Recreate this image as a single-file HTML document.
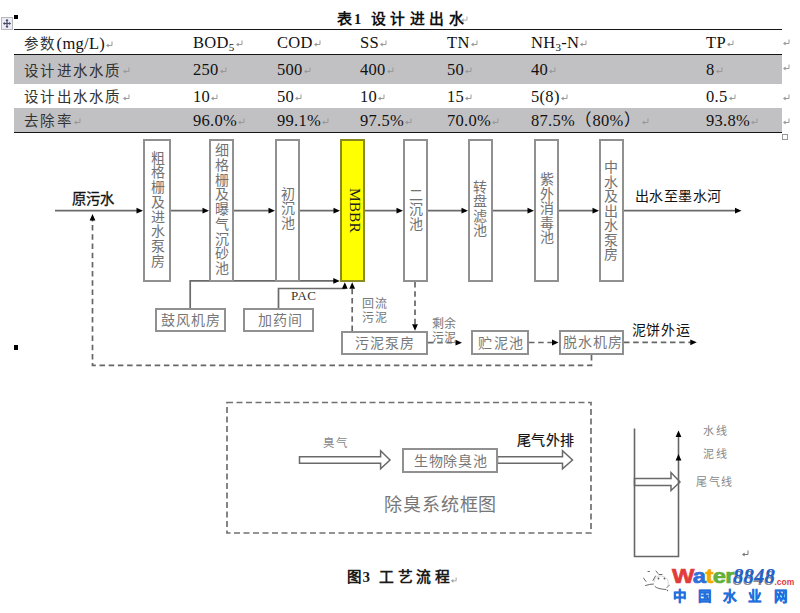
<!DOCTYPE html>
<html lang="zh-CN">
<head>
<meta charset="utf-8">
<style>
html,body{margin:0;padding:0;background:#fff;}
body{width:800px;height:613px;position:relative;overflow:hidden;font-family:"Liberation Serif",serif;color:#111;}
.a{position:absolute;white-space:nowrap;}
.t{font-size:16.5px;line-height:16px;letter-spacing:0.3px;}
.t .cn{-webkit-text-stroke:0;}
.cn{font-size:14.5px;letter-spacing:2.3px;color:#333;}
svg.rm{position:static;display:inline-block;width:7px;height:7px;vertical-align:1px;margin-left:1px;}
svg.rme{position:absolute;width:7px;height:7px;}
.gray{position:absolute;background:#c1c0c2;}
.hl{position:absolute;background:#151515;}
.vt{position:absolute;text-align:center;color:#727272;font-size:14px;}
.box{position:absolute;border:2px solid #909090;box-sizing:border-box;background:#fff;}
svg{position:absolute;left:0;top:0;}
</style>
</head>
<body>
<!-- table -->
<svg style="left:1px;top:17px;" width="12" height="13" viewBox="0 0 12 13"><rect x="0.5" y="0.5" width="11" height="12" fill="#ececf8" stroke="#b8b8b8" stroke-width="1"/><g stroke="#4a4a66" stroke-width="1.2" fill="#4a4a66"><line x1="2.5" y1="6.5" x2="9.5" y2="6.5"/><line x1="6" y1="2.5" x2="6" y2="10.5"/></g><g fill="#4a4a66"><path d="M2,6.5 L4,5 L4,8z"/><path d="M10,6.5 L8,5 L8,8z"/><path d="M6,2 L4.5,4 L7.5,4z"/><path d="M6,11 L4.5,9 L7.5,9z"/></g></svg>
<div class="a" style="left:13.5px;top:14.5px;width:4.5px;height:4px;background:#000;"></div>
<div class="a" style="left:337px;top:9.5px;font-size:15px;font-weight:bold;line-height:18px;color:#111;">表<span style="margin-left:2px;font-size:14.5px;">1</span></div>
<div class="a" style="left:370.5px;top:9.5px;font-size:14.8px;font-weight:bold;letter-spacing:4.6px;line-height:18px;color:#111;">设计进出水</div>
<div class="gray" style="left:14px;top:55px;width:768px;height:29px;"></div>
<div class="gray" style="left:14px;top:108px;width:768px;height:24px;"></div>
<div class="hl" style="left:14px;top:29px;width:768px;height:1px;"></div>
<div class="hl" style="left:14px;top:54px;width:768px;height:1px;"></div>
<div class="hl" style="left:14px;top:132px;width:768px;height:1px;"></div>
<div class="a" style="left:782px;top:134px;width:4px;height:4px;border:1px solid #999;"></div>

<div id="tbl">
<div class="a t" style="left:24px;top:35.5px;"><span class="cn">参数</span>(mg/L)<svg class="rm" viewBox="0 0 7 7"><path d="M6,0.5V4.5H1.8" fill="none" stroke="#999" stroke-width="1"/><path d="M0,4.5L2.6,2.4V6.6z" fill="#999"/></svg></div>
<div class="a t" style="left:193px;top:35.3px;">BOD<span style="font-size:11px;vertical-align:-3px">5</span><svg class="rm" viewBox="0 0 7 7"><path d="M6,0.5V4.5H1.8" fill="none" stroke="#999" stroke-width="1"/><path d="M0,4.5L2.6,2.4V6.6z" fill="#999"/></svg></div>
<div class="a t" style="left:277px;top:35.3px;">COD<svg class="rm" viewBox="0 0 7 7"><path d="M6,0.5V4.5H1.8" fill="none" stroke="#999" stroke-width="1"/><path d="M0,4.5L2.6,2.4V6.6z" fill="#999"/></svg></div>
<div class="a t" style="left:360px;top:35.3px;">SS<svg class="rm" viewBox="0 0 7 7"><path d="M6,0.5V4.5H1.8" fill="none" stroke="#999" stroke-width="1"/><path d="M0,4.5L2.6,2.4V6.6z" fill="#999"/></svg></div>
<div class="a t" style="left:447px;top:35.3px;">TN<svg class="rm" viewBox="0 0 7 7"><path d="M6,0.5V4.5H1.8" fill="none" stroke="#999" stroke-width="1"/><path d="M0,4.5L2.6,2.4V6.6z" fill="#999"/></svg></div>
<div class="a t" style="left:531px;top:35.3px;">NH<span style="font-size:11px;vertical-align:-3px">3</span>-N<svg class="rm" viewBox="0 0 7 7"><path d="M6,0.5V4.5H1.8" fill="none" stroke="#999" stroke-width="1"/><path d="M0,4.5L2.6,2.4V6.6z" fill="#999"/></svg></div>
<div class="a t" style="left:706px;top:35.3px;">TP<svg class="rm" viewBox="0 0 7 7"><path d="M6,0.5V4.5H1.8" fill="none" stroke="#999" stroke-width="1"/><path d="M0,4.5L2.6,2.4V6.6z" fill="#999"/></svg></div>
<div class="a t" style="left:24px;top:62px;"><span class="cn" style="position:relative;top:1px">设计进水水质</span><svg class="rm" viewBox="0 0 7 7"><path d="M6,0.5V4.5H1.8" fill="none" stroke="#999" stroke-width="1"/><path d="M0,4.5L2.6,2.4V6.6z" fill="#999"/></svg></div>
<div class="a t" style="left:193px;top:62px;">250<svg class="rm" viewBox="0 0 7 7"><path d="M6,0.5V4.5H1.8" fill="none" stroke="#999" stroke-width="1"/><path d="M0,4.5L2.6,2.4V6.6z" fill="#999"/></svg></div>
<div class="a t" style="left:277px;top:62px;">500<svg class="rm" viewBox="0 0 7 7"><path d="M6,0.5V4.5H1.8" fill="none" stroke="#999" stroke-width="1"/><path d="M0,4.5L2.6,2.4V6.6z" fill="#999"/></svg></div>
<div class="a t" style="left:360px;top:62px;">400<svg class="rm" viewBox="0 0 7 7"><path d="M6,0.5V4.5H1.8" fill="none" stroke="#999" stroke-width="1"/><path d="M0,4.5L2.6,2.4V6.6z" fill="#999"/></svg></div>
<div class="a t" style="left:447px;top:62px;">50<svg class="rm" viewBox="0 0 7 7"><path d="M6,0.5V4.5H1.8" fill="none" stroke="#999" stroke-width="1"/><path d="M0,4.5L2.6,2.4V6.6z" fill="#999"/></svg></div>
<div class="a t" style="left:531px;top:62px;">40<svg class="rm" viewBox="0 0 7 7"><path d="M6,0.5V4.5H1.8" fill="none" stroke="#999" stroke-width="1"/><path d="M0,4.5L2.6,2.4V6.6z" fill="#999"/></svg></div>
<div class="a t" style="left:706px;top:62px;">8<svg class="rm" viewBox="0 0 7 7"><path d="M6,0.5V4.5H1.8" fill="none" stroke="#999" stroke-width="1"/><path d="M0,4.5L2.6,2.4V6.6z" fill="#999"/></svg></div>
<div class="a t" style="left:24px;top:89px;"><span class="cn">设计出水水质</span><svg class="rm" viewBox="0 0 7 7"><path d="M6,0.5V4.5H1.8" fill="none" stroke="#999" stroke-width="1"/><path d="M0,4.5L2.6,2.4V6.6z" fill="#999"/></svg></div>
<div class="a t" style="left:193px;top:89px;">10<svg class="rm" viewBox="0 0 7 7"><path d="M6,0.5V4.5H1.8" fill="none" stroke="#999" stroke-width="1"/><path d="M0,4.5L2.6,2.4V6.6z" fill="#999"/></svg></div>
<div class="a t" style="left:277px;top:89px;">50<svg class="rm" viewBox="0 0 7 7"><path d="M6,0.5V4.5H1.8" fill="none" stroke="#999" stroke-width="1"/><path d="M0,4.5L2.6,2.4V6.6z" fill="#999"/></svg></div>
<div class="a t" style="left:360px;top:89px;">10<svg class="rm" viewBox="0 0 7 7"><path d="M6,0.5V4.5H1.8" fill="none" stroke="#999" stroke-width="1"/><path d="M0,4.5L2.6,2.4V6.6z" fill="#999"/></svg></div>
<div class="a t" style="left:447px;top:89px;">15<svg class="rm" viewBox="0 0 7 7"><path d="M6,0.5V4.5H1.8" fill="none" stroke="#999" stroke-width="1"/><path d="M0,4.5L2.6,2.4V6.6z" fill="#999"/></svg></div>
<div class="a t" style="left:531px;top:89px;">5(8)<svg class="rm" viewBox="0 0 7 7"><path d="M6,0.5V4.5H1.8" fill="none" stroke="#999" stroke-width="1"/><path d="M0,4.5L2.6,2.4V6.6z" fill="#999"/></svg></div>
<div class="a t" style="left:706px;top:89px;">0.5<svg class="rm" viewBox="0 0 7 7"><path d="M6,0.5V4.5H1.8" fill="none" stroke="#999" stroke-width="1"/><path d="M0,4.5L2.6,2.4V6.6z" fill="#999"/></svg></div>
<div class="a t" style="left:24px;top:113px;"><span class="cn">去除率</span><svg class="rm" viewBox="0 0 7 7"><path d="M6,0.5V4.5H1.8" fill="none" stroke="#999" stroke-width="1"/><path d="M0,4.5L2.6,2.4V6.6z" fill="#999"/></svg></div>
<div class="a t" style="left:193px;top:113px;">96.0%<svg class="rm" viewBox="0 0 7 7"><path d="M6,0.5V4.5H1.8" fill="none" stroke="#999" stroke-width="1"/><path d="M0,4.5L2.6,2.4V6.6z" fill="#999"/></svg></div>
<div class="a t" style="left:277px;top:113px;">99.1%<svg class="rm" viewBox="0 0 7 7"><path d="M6,0.5V4.5H1.8" fill="none" stroke="#999" stroke-width="1"/><path d="M0,4.5L2.6,2.4V6.6z" fill="#999"/></svg></div>
<div class="a t" style="left:360px;top:113px;">97.5%<svg class="rm" viewBox="0 0 7 7"><path d="M6,0.5V4.5H1.8" fill="none" stroke="#999" stroke-width="1"/><path d="M0,4.5L2.6,2.4V6.6z" fill="#999"/></svg></div>
<div class="a t" style="left:447px;top:113px;">70.0%<svg class="rm" viewBox="0 0 7 7"><path d="M6,0.5V4.5H1.8" fill="none" stroke="#999" stroke-width="1"/><path d="M0,4.5L2.6,2.4V6.6z" fill="#999"/></svg></div>
<div class="a t" style="left:531px;top:113px;">87.5%（80%）<svg class="rm" viewBox="0 0 7 7"><path d="M6,0.5V4.5H1.8" fill="none" stroke="#999" stroke-width="1"/><path d="M0,4.5L2.6,2.4V6.6z" fill="#999"/></svg></div>
<div class="a t" style="left:706px;top:113px;">93.8%<svg class="rm" viewBox="0 0 7 7"><path d="M6,0.5V4.5H1.8" fill="none" stroke="#999" stroke-width="1"/><path d="M0,4.5L2.6,2.4V6.6z" fill="#999"/></svg></div>
</div>

<svg class="rme" style="left:783px;top:39px" viewBox="0 0 7 7"><path d="M6,0.5V4.5H1.8" fill="none" stroke="#999" stroke-width="1"/><path d="M0,4.5L2.6,2.4V6.6z" fill="#999"/></svg>
<svg class="rme" style="left:783px;top:64px" viewBox="0 0 7 7"><path d="M6,0.5V4.5H1.8" fill="none" stroke="#999" stroke-width="1"/><path d="M0,4.5L2.6,2.4V6.6z" fill="#999"/></svg>
<svg class="rme" style="left:783px;top:93.5px" viewBox="0 0 7 7"><path d="M6,0.5V4.5H1.8" fill="none" stroke="#999" stroke-width="1"/><path d="M0,4.5L2.6,2.4V6.6z" fill="#999"/></svg>
<svg class="rme" style="left:783px;top:118px" viewBox="0 0 7 7"><path d="M6,0.5V4.5H1.8" fill="none" stroke="#999" stroke-width="1"/><path d="M0,4.5L2.6,2.4V6.6z" fill="#999"/></svg>
<!-- diagram lines -->
<svg width="800" height="613" viewBox="0 0 800 613">
<g stroke="#6a6a6a" stroke-width="1.7" fill="none">
<line x1="55" y1="210.7" x2="138" y2="210.7"/>
<line x1="170" y1="210.7" x2="204" y2="210.7"/>
<line x1="233" y1="210.7" x2="270" y2="210.7"/>
<line x1="299" y1="210.7" x2="335" y2="210.7"/>
<line x1="364" y1="210.7" x2="398" y2="210.7"/>
<line x1="427" y1="210.7" x2="463" y2="210.7"/>
<line x1="492" y1="210.7" x2="529" y2="210.7"/>
<line x1="558" y1="210.7" x2="594" y2="210.7"/>
<line x1="623" y1="210.7" x2="736.5" y2="210.7"/>
<polyline points="190.2,308 190.2,280.9 334,280.9"/>
<polyline points="278.5,308 278.5,288.5 344.8,288.5 344.8,288"/>
</g>
<g stroke="#666" stroke-width="1.7" fill="none" stroke-dasharray="5.5,3.7">
<line x1="352.2" y1="331" x2="352.2" y2="288"/>
<line x1="415" y1="282" x2="415" y2="325"/>
<line x1="428" y1="342.7" x2="456" y2="342.7"/>
<line x1="529" y1="342.5" x2="553" y2="342.5"/>
<line x1="624" y1="342.3" x2="691" y2="342.3"/>
<polyline points="591.5,355 591.5,365.3 92.5,365.3 92.5,220"/>
</g>
<rect x="227" y="402.5" width="364" height="130.5" stroke="#707070" stroke-width="1.7" fill="none" stroke-dasharray="6,3.5"/>
<g stroke="#6a6a6a" stroke-width="1.5" fill="#fff">
<path d="M299.5,456.8 L380.6,456.8 L380.6,450.8 L390,460 L380.6,468.8 L380.6,463.2 L299.5,463.2 z"/>
<path d="M497.5,456.8 L562.5,456.8 L562.5,450.8 L572.5,460 L562.5,468.8 L562.5,463.2 L497.5,463.2 z"/>
<path d="M634.5,478.6 L671,478.6 L671,472.6 L680,482 L671,490.6 L671,485.5 L634.5,485.5 z"/>
</g>
<g stroke="#666" stroke-width="1.6" fill="none">
<polyline points="634.5,428.5 634.5,556.5 678.5,556.5 678.5,436"/>
</g>
<g fill="#000">
<path d="M143,210.7 L136.5,207.8 L136.5,213.6 z M209,210.7 L202.5,207.8 L202.5,213.6 z M275,210.7 L268.5,207.8 L268.5,213.6 z M340,210.7 L333.5,207.8 L333.5,213.6 z M403,210.7 L396.5,207.8 L396.5,213.6 z M468,210.7 L461.5,207.8 L461.5,213.6 z M534,210.7 L527.5,207.8 L527.5,213.6 z M599,210.7 L592.5,207.8 L592.5,213.6 z M741.5,210.7 L735,207.8 L735,213.6 z M339.8,280.9 L333.3,278 L333.3,283.8 z M344.8,282.3 L341.9,288.8 L347.7,288.8 z M352.2,282.3 L349.3,288.8 L355.1,288.8 z M415,330.8 L412.1,324.3 L417.9,324.3 z M462,342.7 L455.5,339.8 L455.5,345.6 z M558.5,342.5 L552,339.6 L552,345.4 z M696.8,342.3 L690.3,339.4 L690.3,345.2 z M92.5,214 L89.6,220.5 L95.4,220.5 z"/>
<path d="M675.6,437 L678.5,430.5 L681.4,437 z"/>
<path d="M675.6,460.5 L678.5,454 L681.4,460.5 z"/>
</g>
</svg>

<!-- boxes -->
<div class="box" style="left:143px;top:139px;width:28px;height:143px;"></div>
<div class="box" style="left:209px;top:139px;width:25px;height:143px;"></div>
<div class="box" style="left:275px;top:139px;width:25px;height:143px;"></div>
<div class="box" style="left:340px;top:139px;width:25px;height:143px;background:#ffff00;border-color:#8a8a20;"></div>
<div class="box" style="left:403px;top:139px;width:25px;height:143px;"></div>
<div class="box" style="left:468px;top:139px;width:25px;height:143px;"></div>
<div class="box" style="left:534px;top:139px;width:25px;height:143px;"></div>
<div class="box" style="left:599px;top:139px;width:25px;height:143px;"></div>
<div class="box" style="left:155px;top:308px;width:71px;height:24px;"></div>
<div class="box" style="left:243px;top:308px;width:71px;height:24px;"></div>
<div class="box" style="left:341px;top:331px;width:87px;height:24px;"></div>
<div class="box" style="left:471px;top:330px;width:58px;height:25px;"></div>
<div class="box" style="left:559px;top:330px;width:65px;height:25px;"></div>
<div class="box" style="left:402px;top:448px;width:96px;height:25px;"></div>

<!-- vertical texts -->
<div class="vt" style="left:144px;top:151.5px;width:27px;line-height:14.8px;">粗<br>格<br>栅<br>及<br>进<br>水<br>泵<br>房</div>
<div class="vt" style="left:209.5px;top:144.3px;width:24px;line-height:14.7px;">细<br>格<br>栅<br>及<br>曝<br>气<br>沉<br>砂<br>池</div>
<div class="vt" style="left:275.5px;top:187.5px;width:24.5px;line-height:14.5px;">初<br>沉<br>池</div>
<div class="vt" style="left:403.5px;top:188.5px;width:24.5px;line-height:14.5px;">二<br>沉<br>池</div>
<div class="vt" style="left:468px;top:180.5px;width:24.5px;line-height:14.5px;">转<br>盘<br>滤<br>池</div>
<div class="vt" style="left:534.5px;top:173px;width:24px;line-height:14.5px;">紫<br>外<br>消<br>毒<br>池</div>
<div class="vt" style="left:599px;top:161px;width:24.5px;line-height:14.5px;">中<br>水<br>及<br>出<br>水<br>泵<br>房</div>
<div class="a" style="left:347.5px;top:188.3px;width:44px;height:14px;font-size:15.5px;line-height:14px;color:#222;transform-origin:0 0;transform:translate(0,0) rotate(90deg) translate(0,-14px);">MBBR</div>

<!-- labels -->
<div class="a" style="left:71.5px;top:187.2px;font-size:14.3px;color:#111;letter-spacing:0.3px;-webkit-text-stroke:0.3px #111;">原污水</div>
<div class="a" style="left:634.5px;top:185px;font-size:14px;color:#111;letter-spacing:0.5px;">出水至墨水河</div>
<div class="a" style="left:631.5px;top:318.5px;font-size:14px;color:#111;letter-spacing:0.7px;">泥饼外运</div>
<div class="a" style="left:291px;top:288.5px;font-size:13px;line-height:14px;letter-spacing:0.4px;color:#333;">PAC</div>
<div class="a" style="left:160.5px;top:309px;font-size:14px;color:#777;letter-spacing:1.3px;">鼓风机房</div>
<div class="a" style="left:257.5px;top:309px;font-size:14px;color:#777;letter-spacing:1px;">加药间</div>
<div class="a" style="left:355px;top:331.5px;font-size:14px;color:#777;letter-spacing:1px;">污泥泵房</div>
<div class="a" style="left:478px;top:331.5px;font-size:14px;color:#777;letter-spacing:1.6px;">贮泥池</div>
<div class="a" style="left:563px;top:330.5px;font-size:14px;color:#777;letter-spacing:1px;">脱水机房</div>
<div class="a" style="left:362px;top:298.3px;font-size:12px;line-height:13.5px;letter-spacing:0.6px;color:#777;">回流<br>污泥</div>
<div class="a" style="left:432px;top:318px;font-size:12px;line-height:13.5px;letter-spacing:0.3px;color:#777;">剩余<br>污泥</div>

<div class="a" style="left:322.5px;top:433.5px;font-size:11.5px;letter-spacing:2.5px;color:#888;">臭气</div>
<div class="a" style="left:414px;top:449.5px;font-size:14px;letter-spacing:0.7px;color:#777;">生物除臭池</div>
<div class="a" style="left:516.5px;top:429.3px;font-size:14px;font-weight:500;color:#111;letter-spacing:0.6px;-webkit-text-stroke:0.2px #111;">尾气外排</div>
<div class="a" style="left:384px;top:489.5px;font-size:18px;letter-spacing:0.9px;color:#777;">除臭系统框图</div>
<div class="a" style="left:703px;top:421.5px;font-size:11px;letter-spacing:1.5px;color:#888;">水线</div>
<div class="a" style="left:703px;top:445px;font-size:11px;letter-spacing:1.5px;color:#888;">泥线</div>
<div class="a" style="left:696px;top:473px;font-size:11px;letter-spacing:1.5px;color:#888;">尾气线</div>

<div class="a" style="left:347px;top:567.5px;font-size:14.5px;font-weight:bold;line-height:18px;color:#1a1a1a;">图<span style="margin-left:1.5px;font-size:15px;">3</span></div>
<div class="a" style="left:379px;top:567.5px;font-size:14.8px;font-weight:bold;letter-spacing:3.6px;line-height:18px;color:#1a1a1a;">工艺流程</div>

<svg class="rme" style="left:742px;top:550px;width:7px;height:7px" viewBox="0 0 7 7" preserveAspectRatio="none"><path d="M6,0.5V4.5H1.8" fill="none" stroke="#777" stroke-width="1"/><path d="M0,4.5L2.6,2.4V6.6z" fill="#777"/></svg>
<svg class="rme" style="left:451px;top:576.5px;width:6px;height:6px" viewBox="0 0 7 7" preserveAspectRatio="none"><path d="M6,0.5V4.5H1.8" fill="none" stroke="#999" stroke-width="1"/><path d="M0,4.5L2.6,2.4V6.6z" fill="#999"/></svg>
<svg class="rme" style="left:461px;top:15.5px;width:7px;height:6.5px" viewBox="0 0 7 7" preserveAspectRatio="none"><path d="M6,0.5V4.5H1.8" fill="none" stroke="#aaa" stroke-width="1"/><path d="M0,4.5L2.6,2.4V6.6z" fill="#aaa"/></svg>
<div class="a" style="left:14px;top:345px;width:4px;height:4.5px;background:#000;"></div>
<!-- watermark -->
<svg style="left:636px;top:564px;" width="36" height="30" viewBox="636 564 36 30"><g fill="none" stroke="#444" stroke-width="1" stroke-linecap="round" opacity="0.8"><path d="M648,571.5 L649.5,571.5"/><path d="M656,571 L658,573.5"/><path d="M659,574.5 L662,574.5"/><path d="M655.5,576 L653,580.5"/><path d="M643.5,578 L646,581.5"/><path d="M645.5,585.5 Q650,584 653.5,584"/><path d="M655,586.5 Q657,589 666,589.5"/><path d="M667,587.5 L669.5,585"/></g><g fill="#333" opacity="0.8"><circle cx="658.5" cy="578.5" r="0.9"/><circle cx="664.5" cy="578.5" r="0.9"/><circle cx="667.5" cy="590.5" r="0.7"/></g><g fill="none" stroke="#ccc" stroke-width="0.8"><path d="M654,582 Q655,575 662,576 Q670,578 668,586"/></g></svg>
<div class="a" style="left:672px;top:565px;font-family:'Liberation Sans',sans-serif;font-weight:bold;font-size:21px;line-height:22px;letter-spacing:-0.6px;transform-origin:0 0;transform:scaleX(1.13);-webkit-text-stroke:0.7px currentColor;"><span style="color:#e23b3b">W</span><span style="color:#2e6fd8">a</span><span style="color:#f2a900">t</span><span style="color:#62b03a">e</span><span style="color:#62b03a">r</span></div>
<div class="a" style="left:733px;top:565px;font-family:'Liberation Serif',serif;font-weight:bold;font-style:italic;font-size:21px;line-height:22px;letter-spacing:0px;color:#1f62c8;text-shadow:-0.5px 2px 0.5px rgba(40,40,60,0.55);">8848</div>
<div class="a" style="left:774.5px;top:577px;font-family:'Liberation Sans',sans-serif;font-weight:bold;font-size:8.5px;line-height:10px;color:#e23b3b;">.com</div>
<div class="a" style="left:672.5px;top:589px;font-family:'Liberation Sans',sans-serif;font-weight:bold;font-size:13.5px;line-height:16px;letter-spacing:12.3px;color:#1f6fdc;-webkit-text-stroke:0.4px #1f6fdc;">中国水业网</div>
</body>
</html>
